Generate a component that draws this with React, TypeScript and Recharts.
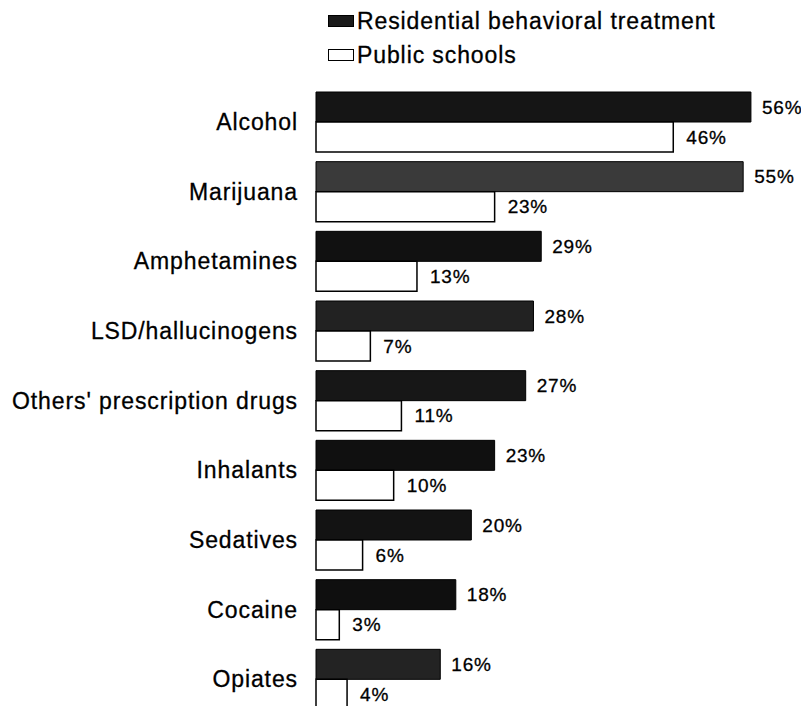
import { BarChart, Bar, XAxis, YAxis, Legend, LabelList, Cell } from "recharts";

const drugs = [
  "Alcohol",
  "Marijuana",
  "Amphetamines",
  "LSD/hallucinogens",
  "Others' prescription drugs",
  "Inhalants",
  "Sedatives",
  "Cocaine",
  "Opiates",
];
const residential = [56, 55, 29, 28, 27, 23, 20, 18, 16];
const publicSchools = [46, 23, 13, 7, 11, 10, 6, 3, 4];
const seriesNames = ["Residential behavioral treatment", "Public schools"];

// scanned halftone look: some dark bars come out a bit grayer
const darkShades = ["#151515", "#3a3a3a", "#111111", "#222222", "#171717", "#101010", "#131313", "#0f0f0f", "#232323"];

const FONT = '"Liberation Sans", Arial, Helvetica, sans-serif';

const data = drugs.map((drug, i) => ({
  drug,
  res: residential[i],
  pub: publicSchools[i],
}));

const pct = (v: any) => `${v}%`;

function LegendBox() {
  const row = (name: string, fill: string) => (
    <div style={{ display: "flex", alignItems: "center", height: 34 }}>
      <span
        style={{
          display: "inline-block",
          width: 24,
          height: 10,
          background: fill,
          border: "1.5px solid #000",
          marginRight: 3,
        }}
      />
      <span
        style={{
          fontSize: 23,
          letterSpacing: 0.9,
          color: "#000",
          whiteSpace: "nowrap",
          WebkitTextStroke: "0.3px #000",
        }}
      >
        {name}
      </span>
    </div>
  );
  return (
    <div style={{ fontFamily: FONT }}>
      {row(seriesNames[0], "#1a1a1a")}
      {row(seriesNames[1], "#fff")}
    </div>
  );
}

export default function App() {
  return (
    <div style={{ width: 793, height: 698, overflow: "hidden", fontFamily: FONT }}>
      <BarChart
        width={793}
        height={712}
        data={data}
        layout="vertical"
        margin={{ top: 79, right: 19, bottom: 6, left: 0 }}
        barGap={0}
        barSize={30}
      >
        <XAxis type="number" domain={[0, 60]} hide />
        <YAxis
          type="category"
          dataKey="drug"
          width={308}
          axisLine={false}
          tickLine={false}
          tickSize={0}
          tickMargin={18}
          interval={0}
          tick={{ fill: "#000", stroke: "#000", strokeWidth: 0.3, fontSize: 23, letterSpacing: 0.9, fontFamily: FONT }}
        />
        <Legend
          layout="vertical"
          align="center"
          verticalAlign="middle"
          wrapperStyle={{ top: -4, left: 320, width: 440 }}
          content={() => <LegendBox />}
        />
        <Bar dataKey="res" name={seriesNames[0]} fill="#1a1a1a" stroke="#000" strokeWidth={1} isAnimationActive={false}>
          {data.map((_, i) => (
            <Cell key={i} fill={darkShades[i]} />
          ))}
          <LabelList
            dataKey="res"
            position="right"
            offset={11}
            formatter={pct}
            fill="#000"
            stroke="#000"
            strokeWidth={0.3}
            fontSize={19}
            letterSpacing={0.8}
            fontFamily={FONT}
          />
        </Bar>
        <Bar dataKey="pub" name={seriesNames[1]} fill="#fff" stroke="#000" strokeWidth={1.5} isAnimationActive={false}>
          <LabelList
            dataKey="pub"
            position="right"
            offset={13}
            formatter={pct}
            fill="#000"
            stroke="#000"
            strokeWidth={0.3}
            fontSize={19}
            letterSpacing={0.8}
            fontFamily={FONT}
          />
        </Bar>
      </BarChart>
    </div>
  );
}
